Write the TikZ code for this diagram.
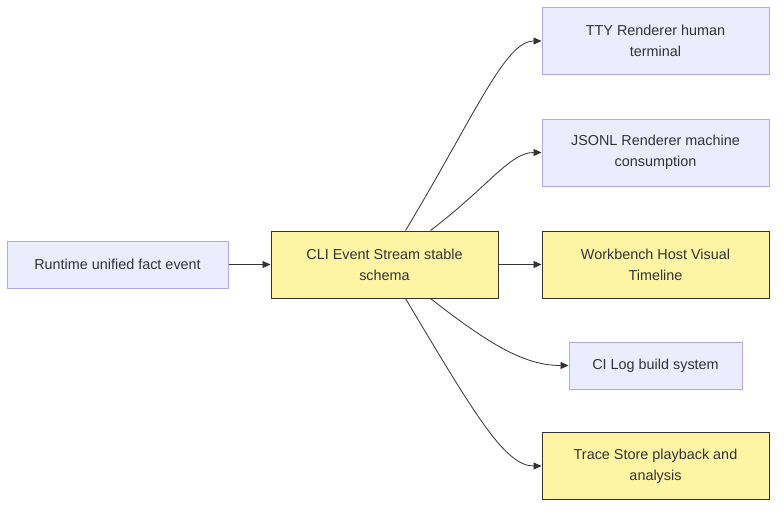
\documentclass[tikz,border=0pt]{standalone}
\usepackage{fontspec}
\setmainfont{Liberation Sans}
\usetikzlibrary{backgrounds,arrows.meta}
\definecolor{lavfill}{HTML}{ECECFF}
\definecolor{lavline}{HTML}{B4A6E8}
\definecolor{yelfill}{HTML}{FFF4A3}
\definecolor{darkline}{HTML}{333333}

\begin{document}
\begin{tikzpicture}[x=1pt, y=-1pt, font=\fontsize{14.4}{21}\selectfont, >={Triangle[length=8pt, width=7pt]},
    show background rectangle, background rectangle/.style={fill=white},
    blk/.style={draw=lavline, fill=lavfill, line width=1pt, align=center, minimum width=227pt, minimum height=67pt, inner sep=4pt, text=darkline},
    hot/.style={blk, draw=darkline, fill=yelfill},
    link/.style={->, draw=darkline, line width=0.8pt}]
  \useasboundingbox (0,0) rectangle (784,514);

  % ---------------- source ----------------
  \node[blk, minimum width=221pt, minimum height=47pt] (run) at (117.5,264.5) {Runtime unified fact event};
  \node[hot] (cli) at (384.5,264.5) {CLI Event Stream stable\\schema};
  \draw[link] (run) -- (cli);

  % ---------------- consumers ----------------
  \node[blk] (tty) at (655.5,41) {TTY Renderer human\\terminal};
  \node[blk] (jsonl) at (655.5,152.5) {JSONL Renderer machine\\consumption};
  \node[hot] (wb) at (655.5,264.5) {Workbench Host Visual\\Timeline};
  \node[blk, minimum width=173pt, minimum height=47pt] (ci) at (655.5,365.5) {CI Log build system};
  \node[hot] (trace) at (655.5,466) {Trace Store playback and\\analysis};

  \draw[link] (cli) -- (wb);
  \draw[link] ([xshift=21pt]cli.north) .. controls (475,115) and (505,41) .. (tty.west);
  \draw[link] ([xshift=46pt]cli.north) .. controls (490,185) and (510,152.5) .. (jsonl.west);
  \draw[link] ([xshift=46pt]cli.south) .. controls (490,345) and (525,365.5) .. (ci.west);
  \draw[link] ([xshift=21pt]cli.south) .. controls (475,415) and (505,466) .. (trace.west);
\end{tikzpicture}
\end{document}
